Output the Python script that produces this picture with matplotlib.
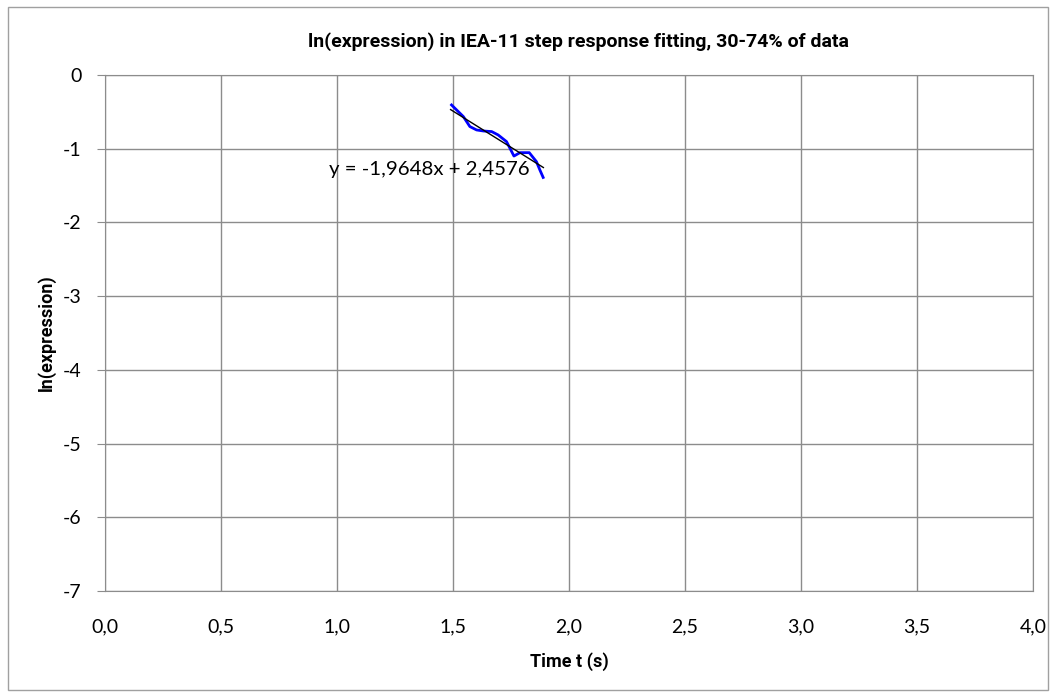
import matplotlib.pyplot as plt
import numpy as np
from matplotlib.patches import Rectangle

# ln(expression) samples
t = [1.494, 1.545, 1.573, 1.602, 1.631, 1.667, 1.695, 1.731, 1.746,
     1.763, 1.789, 1.829, 1.860, 1.875, 1.889]
ln_expr = [-0.407, -0.565, -0.70, -0.746, -0.76, -0.768, -0.814, -0.904,
           -0.995, -1.10, -1.054, -1.054, -1.176, -1.29, -1.39]

slope = -1.9648
intercept = 2.4576
fit_range = [1.49, 1.89]

x_ticks = np.arange(0, 4.01, 0.5)
y_ticks = np.arange(-7, 0.01, 1)

plt.rcParams['font.family'] = ['Lato', 'DejaVu Sans']
bold_font = ['Roboto', 'DejaVu Sans']

fig = plt.figure(figsize=(10.55, 6.94), dpi=100)
ax = fig.add_axes([0.0995, 0.1484, 0.8795, 0.7436])

fig.patches.append(Rectangle((0.008, 0.006), 0.985, 0.984, transform=fig.transFigure,
                             fill=False, edgecolor='#a0a0a0', linewidth=1))

grid_col = '#8c8c8c'
ax.set_xlim(0, 4)
ax.set_ylim(-7, 0)
ax.set_xticks(x_ticks)
ax.set_yticks(y_ticks)
ax.set_xticklabels([f"{v:.1f}".replace('.', ',') for v in x_ticks])
ax.set_yticklabels([f"{int(v)}" for v in y_ticks])
ax.grid(True, color=grid_col, linewidth=1)
ax.set_axisbelow(True)
for s in ax.spines.values():
    s.set_color(grid_col)
ax.tick_params(axis='x', length=0, pad=20, labelsize=14)
ax.tick_params(axis='y', length=6, color=grid_col, pad=11, labelsize=14)

ax.plot(t, ln_expr, color='#0000ff', linewidth=2)
xf = np.array(fit_range)
ax.plot(xf, slope * xf + intercept, color='black', linewidth=1)
ax.text(1.40, -1.28, "y = -1,9648x + 2,4576", fontsize=14.7, ha='center', va='center')

fig.text(0.548, 0.94, "ln(expression) in IEA-11 step response fitting, 30-74% of data",
         fontsize=14, fontweight='bold', family=bold_font, ha='center', va='center')
ax.set_xlabel("Time t (s)", fontsize=13, fontweight='bold', family=bold_font, labelpad=12)
ax.set_ylabel("ln(expression)", fontsize=13, fontweight='bold', family=bold_font, labelpad=5)

plt.savefig("out.png")
